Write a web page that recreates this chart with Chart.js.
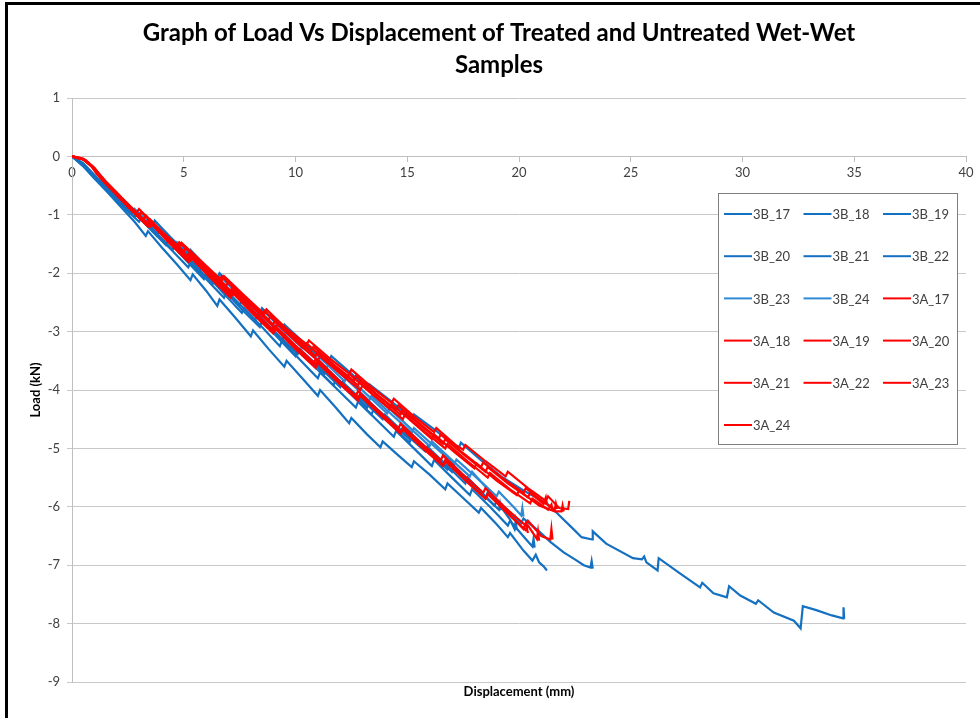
<!DOCTYPE html>
<html><head><meta charset="utf-8">
<script src="https://cdn.jsdelivr.net/npm/chart.js@4.4.0/dist/chart.umd.min.js"></script>
<style>html,body{margin:0;padding:0;background:#fff;overflow:hidden}#wrap{width:980px;height:718px}</style>
</head><body><div id="wrap"><canvas id="c" width="980" height="718"></canvas></div>
<script>
const titleLines = ['Graph of Load Vs Displacement of Treated and Untreated Wet-Wet', 'Samples'];
const xAxisTitle = 'Displacement (mm)';
const yAxisTitle = 'Load (kN)';
const xTickRange = [0, 40, 5];
const yTickRange = [-9, 1, 1];

const seriesNames = ['3B_17','3B_18','3B_19','3B_20','3B_21','3B_22','3B_23','3B_24',
                     '3A_17','3A_18','3A_19','3A_20','3A_21','3A_22','3A_23','3A_24'];

const s3B_17 = [[0,0],[0.5,-0.12],[1,-0.32],[1.7,-0.58],[2.5,-0.88],[3.3,-1.15],[3.6,-1.2],[3.7,-1.1],[4.4,-1.38],[5.2,-1.68],[5.3,-1.6],[6,-1.88],[6.5,-2.08],[6.6,-2.0],[7.5,-2.35],[8.4,-2.68],[8.5,-2.6],[9.4,-2.95],[9.5,-2.88],[10.4,-3.2],[11.3,-3.5],[11.5,-3.5],[11.6,-3.42],[12.5,-3.72],[13.2,-3.98],[13.3,-3.9],[14.3,-4.2],[15.2,-4.5],[15.3,-4.42],[16.3,-4.7],[17.2,-4.98],[17.3,-5.0],[17.4,-4.9],[18.3,-5.2],[19.2,-5.48],[20.2,-5.72],[21.25,-5.94],[22.4,-6.37],[22.8,-6.52],[23.27,-6.56],[23.3,-6.42],[23.9,-6.63],[25.1,-6.88],[25.5,-6.9],[25.6,-6.85],[25.7,-6.95],[26.2,-7.09],[26.25,-6.88],[27.2,-7.14],[28.1,-7.38],[28.2,-7.3],[28.7,-7.48],[29.3,-7.55],[29.4,-7.36],[29.9,-7.52],[30.6,-7.66],[30.7,-7.6],[31.4,-7.81],[32.3,-7.95],[32.6,-8.08],[32.7,-7.7],[33.3,-7.77],[34.0,-7.86],[34.5,-7.91],[34.52,-7.72],[34.55,-7.92]];
const s3B_18 = [[0,0],[0.5,-0.15],[1,-0.36],[1.7,-0.62],[2.4,-0.9],[3,-1.12],[3.1,-1.05],[3.8,-1.35],[4.5,-1.62],[5.2,-1.9],[5.3,-1.82],[6,-2.1],[6.8,-2.42],[6.9,-2.33],[7.6,-2.62],[8.4,-2.92],[8.5,-2.82],[9.2,-3.1],[10,-3.42],[10.1,-3.32],[10.9,-3.62],[11.7,-3.92],[11.8,-3.82],[12.6,-4.12],[13.4,-4.42],[13.5,-4.32],[14.3,-4.6],[15.1,-4.9],[15.2,-4.8],[16,-5.08],[16.8,-5.36],[16.9,-5.26],[17.7,-5.55],[18.5,-5.85],[18.6,-5.75],[19.4,-6.02],[20.1,-6.28],[20.2,-6.2],[20.9,-6.42],[21.4,-6.6],[22,-6.78],[22.5,-6.9],[22.9,-7.0],[23.2,-7.04],[23.25,-6.93],[23.3,-7.06]];
const s3B_19 = [[0,0],[0.5,-0.17],[1,-0.38],[1.6,-0.62],[2.2,-0.87],[2.8,-1.12],[3.3,-1.36],[3.4,-1.28],[4,-1.55],[4.7,-1.85],[5.3,-2.12],[5.4,-2.02],[6,-2.3],[6.5,-2.56],[6.6,-2.45],[7.3,-2.76],[8,-3.08],[8.1,-2.98],[8.8,-3.3],[9.5,-3.6],[9.6,-3.5],[10.3,-3.8],[11,-4.1],[11.1,-4.0],[11.8,-4.3],[12.4,-4.57],[12.5,-4.48],[13.2,-4.76],[13.8,-4.98],[13.9,-4.88],[14.6,-5.12],[15.2,-5.32],[15.3,-5.22],[16,-5.45],[16.7,-5.7],[16.8,-5.6],[17.5,-5.85],[18.2,-6.1],[18.3,-6.02],[19,-6.3],[19.5,-6.52],[19.6,-6.45],[20.2,-6.75],[20.6,-6.92],[20.75,-6.82],[20.9,-6.95],[21.1,-7.02],[21.25,-7.09]];
const s3B_20 = [[0,0],[0.5,-0.16],[1.1,-0.4],[1.8,-0.68],[2.6,-0.98],[2.7,-0.9],[3.4,-1.2],[4.2,-1.52],[4.3,-1.44],[5.1,-1.78],[5.9,-2.1],[6,-2.02],[6.8,-2.35],[7.6,-2.68],[7.7,-2.6],[8.5,-2.92],[9.3,-3.25],[9.4,-3.15],[10.2,-3.48],[11,-3.8],[11.1,-3.7],[11.9,-4.0],[12.7,-4.3],[12.8,-4.2],[13.6,-4.5],[14.4,-4.8],[14.5,-4.7],[15.3,-5.0],[16.1,-5.3],[16.2,-5.2],[17,-5.5],[17.8,-5.8],[17.9,-5.7],[18.7,-6.0],[19.5,-6.32],[19.6,-6.24],[20.3,-6.55],[20.6,-6.68],[20.65,-6.55],[20.7,-6.7]];
const s3B_21 = [[0,0],[0.5,-0.14],[1.2,-0.42],[2,-0.74],[2.8,-1.04],[2.9,-0.97],[3.7,-1.28],[4.5,-1.6],[4.6,-1.52],[5.5,-1.86],[6.3,-2.18],[6.4,-2.1],[7.3,-2.45],[8.2,-2.8],[8.3,-2.7],[9.2,-3.05],[10.1,-3.38],[10.2,-3.3],[11.1,-3.62],[12,-3.95],[12.1,-3.86],[13,-4.18],[13.9,-4.5],[14,-4.42],[14.9,-4.75],[15.8,-5.05],[15.9,-4.97],[16.8,-5.3],[17.6,-5.6],[17.7,-5.5],[18.5,-5.82],[19.1,-6.05],[19.15,-5.95],[19.2,-6.06]];
const s3B_22 = [[0,0],[0.6,-0.18],[1.3,-0.46],[2.1,-0.78],[2.2,-0.72],[3,-1.05],[3.8,-1.36],[3.9,-1.29],[4.8,-1.64],[5.7,-1.98],[5.8,-1.9],[6.7,-2.24],[7.5,-2.55],[7.6,-2.47],[8.5,-2.82],[9.4,-3.15],[9.5,-3.06],[10.4,-3.4],[11.3,-3.72],[11.4,-3.63],[12.3,-3.96],[13.2,-4.3],[13.3,-4.2],[14.2,-4.52],[15.1,-4.84],[15.2,-4.76],[16.1,-5.08],[17,-5.4],[17.1,-5.3],[18,-5.65],[18.9,-5.98],[19,-5.9],[19.6,-6.22],[19.8,-6.38],[19.85,-6.25],[19.9,-6.4]];
const s3B_23 = [[0,0],[0.5,-0.12],[1.1,-0.36],[1.9,-0.66],[2.7,-0.96],[2.8,-0.9],[3.7,-1.22],[4.6,-1.55],[4.7,-1.47],[5.6,-1.8],[6.5,-2.12],[6.6,-2.05],[7.5,-2.38],[8.4,-2.7],[8.5,-2.62],[9.4,-2.96],[10.3,-3.28],[10.4,-3.2],[11.3,-3.52],[12.2,-3.85],[12.3,-3.76],[13.2,-4.08],[14.1,-4.4],[14.2,-4.32],[15.1,-4.64],[16,-4.96],[16.1,-4.88],[17,-5.2],[17.8,-5.48],[17.9,-5.4],[18.6,-5.7],[18.7,-5.76]];
const s3B_24 = [[0,0],[0.5,-0.14],[1.2,-0.43],[2,-0.73],[2.1,-0.67],[2.9,-0.98],[3.8,-1.3],[3.9,-1.23],[4.8,-1.58],[5.7,-1.9],[5.8,-1.82],[6.7,-2.16],[7.6,-2.48],[7.7,-2.4],[8.6,-2.74],[9.5,-3.06],[9.6,-2.98],[10.5,-3.3],[11.4,-3.62],[11.5,-3.53],[12.4,-3.86],[13.3,-4.18],[13.4,-4.1],[14.3,-4.42],[15.2,-4.73],[15.3,-4.65],[16.2,-4.96],[17.1,-5.27],[17.2,-5.19],[18.1,-5.5],[19,-5.82],[19.1,-5.74],[19.8,-6.02],[20.1,-6.15],[20.15,-6.02],[20.2,-6.17]];

const s3A_17 = [[0,0],[0.4,-0.03],[0.8,-0.13],[1.1,-0.3],[1.6,-0.5],[2.3,-0.77],[3,-1.02],[3.1,-0.95],[3.9,-1.25],[4.8,-1.55],[4.9,-1.48],[5.8,-1.8],[6.7,-2.12],[6.8,-2.05],[7.7,-2.38],[8.6,-2.7],[8.7,-2.62],[9.6,-2.95],[10.5,-3.22],[10.6,-3.15],[11.5,-3.45],[12.4,-3.72],[12.5,-3.65],[13.4,-3.95],[14.3,-4.22],[14.4,-4.15],[15.3,-4.45],[16.2,-4.72],[16.3,-4.65],[17.2,-4.95],[17.5,-5.02],[17.6,-4.94],[18.5,-5.22],[19.4,-5.48],[19.5,-5.4],[20.4,-5.68],[21.2,-5.9],[21.3,-5.82],[21.8,-6.02],[22.2,-6.04],[22.25,-5.9]];
const s3A_18 = [[0,0],[0.5,-0.04],[0.9,-0.16],[1.3,-0.36],[1.8,-0.56],[2.5,-0.82],[3.2,-1.08],[3.3,-1.01],[4.1,-1.32],[5,-1.63],[5.1,-1.56],[6,-1.9],[6.9,-2.22],[7,-2.14],[7.9,-2.47],[8.8,-2.8],[8.9,-2.72],[9.8,-3.04],[10.7,-3.33],[10.8,-3.26],[11.7,-3.56],[12.6,-3.84],[12.7,-3.76],[13.6,-4.06],[14.5,-4.34],[14.6,-4.26],[15.5,-4.56],[16.4,-4.84],[16.5,-4.76],[17.4,-5.05],[18.3,-5.32],[18.4,-5.24],[19.3,-5.52],[20.2,-5.76],[20.3,-5.68],[21.1,-5.92],[21.6,-6.05],[21.65,-5.95],[21.7,-6.04]];
const s3A_19 = [[0,0],[0.5,-0.05],[0.9,-0.18],[1.4,-0.4],[2,-0.62],[2.7,-0.9],[3.4,-1.15],[3.5,-1.08],[4.3,-1.4],[5.2,-1.72],[5.3,-1.65],[6.2,-1.98],[7.1,-2.3],[7.2,-2.22],[8.1,-2.55],[9,-2.88],[9.1,-2.8],[10,-3.12],[10.9,-3.42],[11,-3.34],[11.9,-3.64],[12.8,-3.92],[12.9,-3.84],[13.8,-4.14],[14.7,-4.42],[14.8,-4.34],[15.7,-4.64],[16.6,-4.92],[16.7,-4.84],[17.6,-5.13],[18.5,-5.4],[18.6,-5.32],[19.5,-5.6],[20.4,-5.84],[20.5,-5.76],[21.1,-5.95],[21.2,-5.84],[21.25,-5.96]];
const s3A_20 = [[0,0],[0.6,-0.06],[1,-0.2],[1.5,-0.44],[2.1,-0.67],[2.8,-0.95],[3.5,-1.2],[3.6,-1.13],[4.4,-1.45],[5.3,-1.78],[5.4,-1.7],[6.3,-2.04],[7.2,-2.37],[7.3,-2.29],[8.2,-2.62],[9.1,-2.95],[9.2,-2.87],[10.1,-3.2],[11,-3.5],[11.1,-3.42],[12,-3.72],[12.9,-4.0],[13,-3.92],[13.9,-4.22],[14.8,-4.5],[14.9,-4.42],[15.8,-4.72],[16.7,-5.0],[16.8,-4.92],[17.7,-5.22],[18.6,-5.5],[18.7,-5.42],[19.6,-5.7],[20.5,-5.94],[20.6,-5.86],[21.3,-6.05],[21.45,-5.96],[21.5,-6.07]];
const s3A_21 = [[0,0],[0.5,-0.04],[1,-0.2],[1.5,-0.42],[2.2,-0.7],[2.9,-0.96],[3,-0.9],[3.8,-1.22],[4.7,-1.54],[4.8,-1.47],[5.7,-1.8],[6.6,-2.13],[6.7,-2.05],[7.6,-2.4],[8.5,-2.72],[8.6,-2.64],[9.5,-2.98],[10.4,-3.28],[10.5,-3.2],[11.4,-3.52],[12.3,-3.8],[12.4,-3.72],[13.3,-4.03],[14.2,-4.32],[14.3,-4.24],[15.2,-4.54],[16.1,-4.84],[16.2,-4.76],[17.1,-5.06],[18,-5.34],[18.1,-5.26],[19,-5.55],[19.9,-5.8],[20,-5.72],[20.9,-5.98],[21.6,-6.08],[21.9,-6.08],[21.95,-5.98],[22,-6.08]];
const s3A_22 = [[0,0],[0.5,-0.05],[0.9,-0.18],[1.3,-0.38],[1.9,-0.62],[2.6,-0.9],[3.3,-1.16],[3.4,-1.09],[4.2,-1.42],[5.1,-1.76],[5.2,-1.68],[6.1,-2.04],[7,-2.38],[7.1,-2.3],[8,-2.65],[8.9,-2.98],[9,-2.9],[9.9,-3.24],[10.8,-3.55],[10.9,-3.47],[11.8,-3.8],[12.7,-4.1],[12.8,-4.02],[13.7,-4.35],[14.6,-4.66],[14.7,-4.58],[15.6,-4.9],[16.5,-5.2],[16.6,-5.12],[17.5,-5.45],[18.4,-5.76],[18.5,-5.68],[19.4,-6.02],[20.3,-6.32],[20.4,-6.24],[21,-6.5],[21.4,-6.56],[21.45,-6.38],[21.5,-6.56]];
const s3A_23 = [[0,0],[0.6,-0.06],[1,-0.22],[1.4,-0.42],[2,-0.66],[2.7,-0.94],[3.4,-1.2],[3.5,-1.13],[4.3,-1.46],[5.2,-1.8],[5.3,-1.72],[6.2,-2.08],[7.1,-2.42],[7.2,-2.34],[8.1,-2.7],[9,-3.03],[9.1,-2.95],[10,-3.3],[10.9,-3.62],[11,-3.54],[11.9,-3.87],[12.8,-4.18],[12.9,-4.1],[13.8,-4.43],[14.7,-4.75],[14.8,-4.67],[15.7,-5.0],[16.6,-5.3],[16.7,-5.22],[17.6,-5.55],[18.5,-5.86],[18.6,-5.78],[19.5,-6.12],[20.3,-6.4],[20.4,-6.32],[20.8,-6.55],[20.85,-6.42],[20.9,-6.58]];
const s3A_24 = [[0,0],[0.5,-0.05],[1,-0.2],[1.4,-0.4],[2,-0.64],[2.7,-0.92],[3.4,-1.18],[3.5,-1.1],[4.3,-1.43],[5.2,-1.76],[5.3,-1.68],[6.2,-2.03],[7.1,-2.37],[7.2,-2.29],[8.1,-2.64],[9,-2.98],[9.1,-2.9],[10,-3.24],[10.9,-3.56],[11,-3.48],[11.9,-3.82],[12.8,-4.14],[12.9,-4.06],[13.8,-4.4],[14.7,-4.72],[14.8,-4.64],[15.7,-4.97],[16.6,-5.28],[16.7,-5.2],[17.6,-5.54],[18.5,-5.86],[18.6,-5.78],[19.5,-6.1],[20.2,-6.38],[20.3,-6.28],[20.4,-6.45]];

const seriesData = [s3B_17,s3B_18,s3B_19,s3B_20,s3B_21,s3B_22,s3B_23,s3B_24,
                    s3A_17,s3A_18,s3A_19,s3A_20,s3A_21,s3A_22,s3A_23,s3A_24];
const seriesColors = ['#1470C0','#1470C0','#1470C0','#1470C0','#1470C0','#1470C0','#2F8AD6','#2F8AD6',
                      '#FF0000','#FF0000','#FF0000','#FF0000','#FF0000','#FF0000','#FF0000','#FF0000'];

const datasets = seriesNames.map((name, i) => ({
  label: name,
  data: seriesData[i].map(p => ({x: p[0], y: p[1]})),
  borderColor: seriesColors[i],
  backgroundColor: seriesColors[i],
  borderWidth: 2.2,
  pointRadius: 0,
  showLine: true,
  tension: 0,
  fill: false,
  order: name.startsWith('3A') ? 0 : 1
}));

const FONT = 'Lato, "Open Sans", sans-serif';

const decor = {
  id: 'decor',
  beforeDraw(chart) {
    const c = chart.ctx;
    c.save(); c.fillStyle = '#fff'; c.fillRect(0, 0, chart.width, chart.height); c.restore();
  },
  afterDraw(chart) {
    const c = chart.ctx;
    c.save();
    // outer frame
    c.fillStyle = '#000';
    c.fillRect(5, 2, chart.width - 5, 3);
    c.fillRect(5, 2, 3, chart.height);
    // title
    c.textAlign = 'center'; c.textBaseline = 'middle';
    c.font = 'bold 24px ' + FONT;
    c.fillText(titleLines[0], 499, 33);
    c.fillText(titleLines[1], 499, 65);
    // axis titles
    c.font = 'bold 13px ' + FONT;
    c.fillText(xAxisTitle, 519, 692);
    c.translate(36, 390); c.rotate(-Math.PI / 2);
    c.fillText(yAxisTitle, 0, 0);
    c.setTransform(1, 0, 0, 1, 0, 0);
    // legend
    const bx = 718.5, by = 193.5, bw = 239, bh = 251;
    c.fillStyle = '#fff'; c.fillRect(bx, by, bw, bh);
    c.strokeStyle = '#7f7f7f'; c.lineWidth = 1; c.strokeRect(bx, by, bw, bh);
    c.font = '13px ' + FONT; c.textAlign = 'left'; c.textBaseline = 'middle';
    chart.data.datasets.forEach((ds, i) => {
      const col = i % 3, row = Math.floor(i / 3);
      const x0 = 724 + col * 79.5, y0 = 214 + row * 42.2;
      c.strokeStyle = ds.borderColor; c.lineWidth = 2;
      c.beginPath(); c.moveTo(x0, y0); c.lineTo(x0 + 28, y0); c.stroke();
      c.fillStyle = '#404040';
      c.fillText(ds.label, x0 + 29, y0 + 1);
    });
    c.restore();
  }
};

new Chart(document.getElementById('c'), {
  type: 'scatter',
  data: { datasets },
  options: {
    responsive: false,
    animation: false,
    devicePixelRatio: 1,
    layout: { padding: { left: 0, top: 98, right: 14, bottom: 36 } },
    plugins: { legend: { display: false }, title: { display: false }, tooltip: { enabled: false } },
    scales: {
      x: {
        type: 'linear',
        position: { y: 0 },
        min: xTickRange[0], max: xTickRange[1],
        ticks: { stepSize: xTickRange[2], color: '#404040', font: { family: FONT, size: 13 }, padding: 4, maxRotation: 0 },
        grid: { drawOnChartArea: false, drawTicks: true, tickLength: 5, color: '#BFBFBF' },
        border: { color: '#BFBFBF', width: 1 }
      },
      y: {
        type: 'linear',
        min: yTickRange[0], max: yTickRange[1],
        ticks: { stepSize: yTickRange[2], color: '#404040', font: { family: FONT, size: 13 }, padding: 7 },
        grid: { color: '#C8C8C8', tickLength: 5, lineWidth: 1 },
        border: { color: '#BFBFBF', width: 1 },
        afterFit(scale) { scale.width = 72; }
      }
    }
  },
  plugins: [decor]
});
</script>
</body></html>
